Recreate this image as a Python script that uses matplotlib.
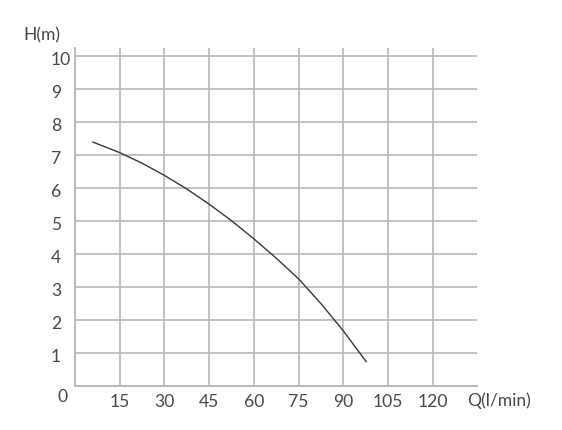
import matplotlib
matplotlib.use("Agg")
import matplotlib.pyplot as plt
from matplotlib import transforms

# Data
flow_q = [6, 15, 22.5, 30, 37.5, 45, 52.5, 60, 67.5, 75, 82.5, 90, 97.7]
head_h = [7.38, 7.06, 6.74, 6.37, 5.96, 5.50, 5.0, 4.45, 3.865, 3.24, 2.49, 1.665, 0.73]
x_ticks = [15, 30, 45, 60, 75, 90, 105, 120]
y_ticks = [1, 2, 3, 4, 5, 6, 7, 8, 9, 10]
x_label = "Q(l/min)"
y_label = "H(m)"

W, H = 562, 431
fig = plt.figure(figsize=(W / 100, H / 100), dpi=100)
ax = fig.add_axes([75 / W, 1 - 386.7 / H, (477.3 - 75) / W, (386.7 - 49.3) / H])
ax.set_xlim(0, 135)
ax.set_ylim(0, 10.22)

grid_c = "#b8b8b8"
text_c = "#484848"
fs = 12.6
fam = ["Lato", "Liberation Sans", "DejaVu Sans"]
fw = "normal"

for x in x_ticks:
    ax.axvline(x, color=grid_c, lw=1.2, zorder=1)
for y in y_ticks:
    ax.axhline(y, color=grid_c, lw=1.2, zorder=1)

for s in ["top", "right"]:
    ax.spines[s].set_visible(False)
for s in ["left", "bottom"]:
    ax.spines[s].set_color(grid_c)
    ax.spines[s].set_linewidth(1.4)
ax.set_xticks([])
ax.set_yticks([])

ax.plot(flow_q, head_h, color="#383838", lw=1.0, zorder=3)

# y tick labels (left aligned)
ty = transforms.blended_transform_factory(fig.transFigure, ax.transData)
for y in y_ticks:
    ax.text(51 / W, y, str(y), transform=ty + transforms.ScaledTranslation(0, -3.5 / 100, fig.dpi_scale_trans),
            ha="left", va="center", fontsize=fs, color=text_c, family=fam, weight=fw)

# x tick labels
tx = transforms.blended_transform_factory(ax.transData, fig.transFigure)
for x in x_ticks:
    ax.text(x, 1 - 402.3 / H, str(x), transform=tx, ha="center", va="center",
            fontsize=fs, color=text_c, family=fam, weight=fw)

fig.text(62.7 / W, 1 - 396.7 / H, "0", ha="center", va="center", fontsize=fs, color=text_c, family=fam, weight=fw)
fig.text(466.7 / W, 1 - 400.7 / H, x_label, ha="left", va="center", fontsize=fs, color=text_c, family=fam, weight=fw)
fig.text(23.3 / W, 1 - 35 / H, y_label, ha="left", va="center", fontsize=fs, color=text_c, family=fam, weight=fw)

fig.savefig("out.png", dpi=100)
